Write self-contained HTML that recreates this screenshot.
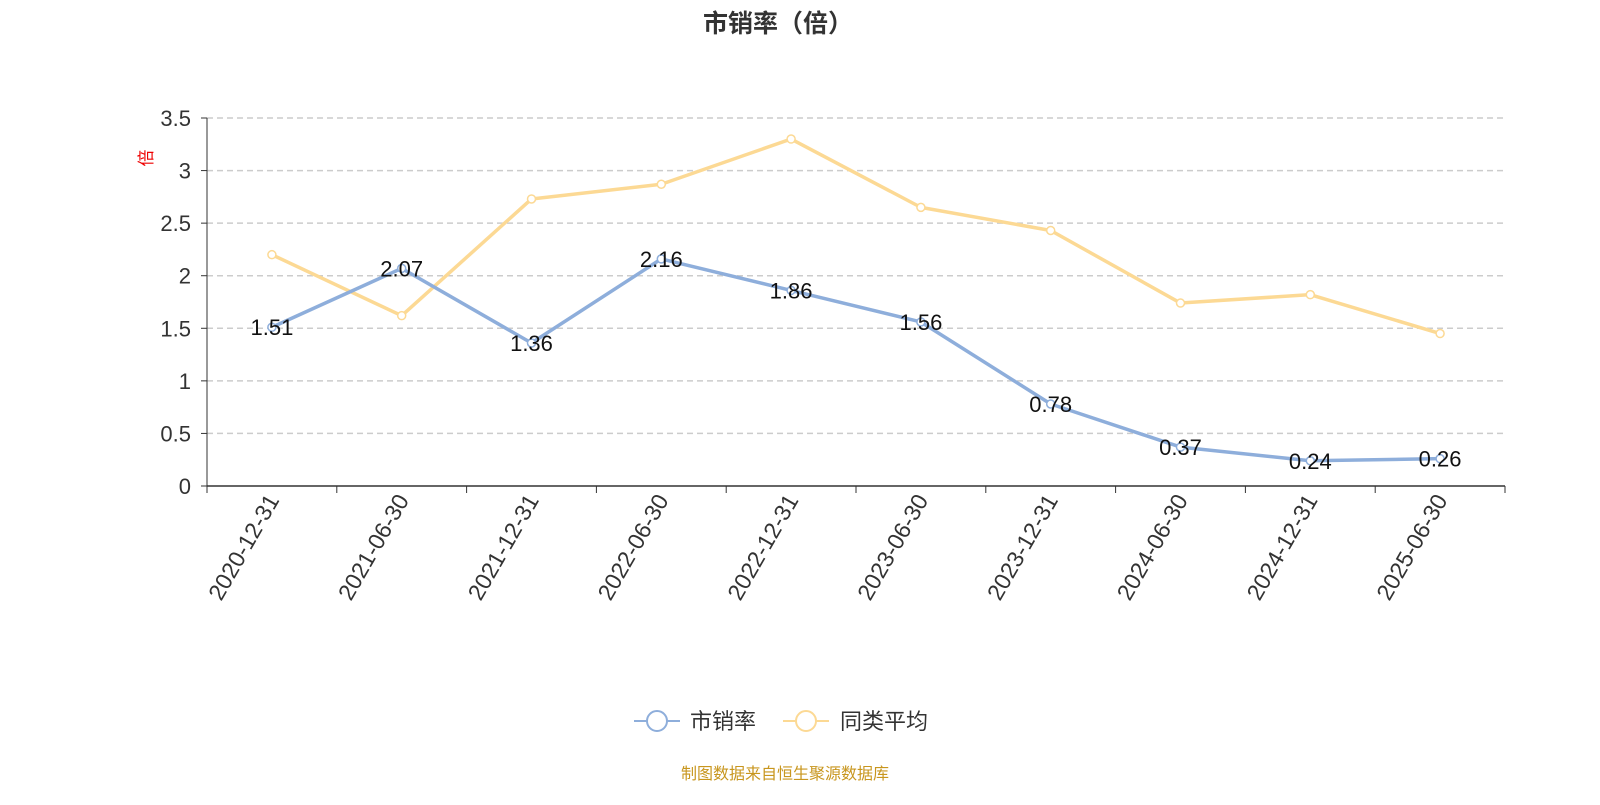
<!DOCTYPE html>
<html><head><meta charset="utf-8"><style>
body{margin:0;background:#fff;width:1600px;height:800px;overflow:hidden;font-family:"Liberation Sans","Noto Sans CJK SC",sans-serif}
</style></head><body>
<svg id="chart" width="1600" height="800" xmlns="http://www.w3.org/2000/svg" font-family="Liberation Sans, Noto Sans CJK SC, sans-serif">
<text x="778" y="32" text-anchor="middle" font-size="25" font-weight="bold" fill="#333">市销率（倍）</text>
<text x="0" y="0" transform="translate(152,158) rotate(-90)" text-anchor="middle" font-size="17" fill="#e00">倍</text>
<g id="grid"></g><g id="axes"></g><g id="series"></g>
<g>
<g>
<line x1="634" y1="721" x2="680" y2="721" stroke="#8eaedb" stroke-width="2"/><circle cx="657" cy="721" r="10" fill="#fff" stroke="#8eaedb" stroke-width="2"/>
<text x="690" y="729" font-size="22" fill="#333">市销率</text></g>
<g>
<line x1="783" y1="721" x2="829" y2="721" stroke="#fcd994" stroke-width="2"/><circle cx="806" cy="721" r="10" fill="#fff" stroke="#fcd994" stroke-width="2"/>
<text x="840" y="729" font-size="22" fill="#333">同类平均</text></g>
</g>
<text x="785" y="779" text-anchor="middle" font-size="16" fill="#c8961e">制图数据来自恒生聚源数据库</text>
</svg>
<script>
const categories=["2020-12-31","2021-06-30","2021-12-31","2022-06-30","2022-12-31","2023-06-30","2023-12-31","2024-06-30","2024-12-31","2025-06-30"];
const psValues=[1.51,2.07,1.36,2.16,1.86,1.56,0.78,0.37,0.24,0.26];
const peerValues=[2.2,1.62,2.73,2.87,3.3,2.65,2.43,1.74,1.82,1.45];
const yTicks=[0,0.5,1,1.5,2,2.5,3,3.5];
const NS="http://www.w3.org/2000/svg";
const L=207,R=1505,T=118,B=486,yMax=3.5;
const bw=(R-L)/categories.length;
const xS=i=>L+bw*(i+0.5);
const yS=v=>B-(v/yMax)*(B-T);
function mk(tag,attrs,parent,text){const e=document.createElementNS(NS,tag);for(const k in attrs)e.setAttribute(k,attrs[k]);if(text!==undefined)e.textContent=text;parent.appendChild(e);return e;}
const grid=document.getElementById('grid'),axes=document.getElementById('axes'),series=document.getElementById('series');
yTicks.forEach(t=>{
 const y=yS(t);
 if(t>0){const g=mk('line',{x1:L,x2:R,y1:y,y2:y,stroke:'#ccc','stroke-dasharray':'6,4','stroke-width':1.5},grid);
 
 }
 mk('line',{x1:L-6,x2:L,y1:y,y2:y,stroke:'#333'},axes);
 const tl=mk('text',{x:L-16,y:y+8,'text-anchor':'end','font-size':22,fill:'#333'},axes,String(t));
 
 
});
mk('line',{x1:L,x2:L,y1:T,y2:B,stroke:'#333'},axes);
mk('line',{x1:L,x2:R,y1:B,y2:B,stroke:'#333','stroke-width':1.5},axes);
for(let i=0;i<=categories.length;i++){const x=L+bw*i;mk('line',{x1:x,x2:x,y1:B,y2:B+7,stroke:'#333'},axes);}
categories.forEach((c,i)=>{
 const x=xS(i);
 const t=mk('text',{transform:`translate(${x+8},${B+14}) rotate(-60)`,'text-anchor':'end','font-size':23,fill:'#333'},axes,c);
 
 
});
function drawSeries(vals,color,name,labels){
 const p=mk('polyline',{points:vals.map((v,i)=>xS(i)+','+yS(v)).join(' '),fill:'none',stroke:color,'stroke-width':3.5,'stroke-linejoin':'round'},series);
 
 
 vals.forEach((v,i)=>{
  const c=mk('circle',{cx:xS(i),cy:yS(v),r:4,fill:'#fff',stroke:color,'stroke-width':1.5},series);
  
  
  if(labels){const t=mk('text',{x:xS(i),y:yS(v)+8,'text-anchor':'middle','font-size':22,fill:'#111'},series,v.toFixed(2));
  
  }
 });
}
drawSeries(peerValues,'#fcd994','peer-average',false);
drawSeries(psValues,'#8eaedb','ps-ratio',true);
</script>
</body></html>
